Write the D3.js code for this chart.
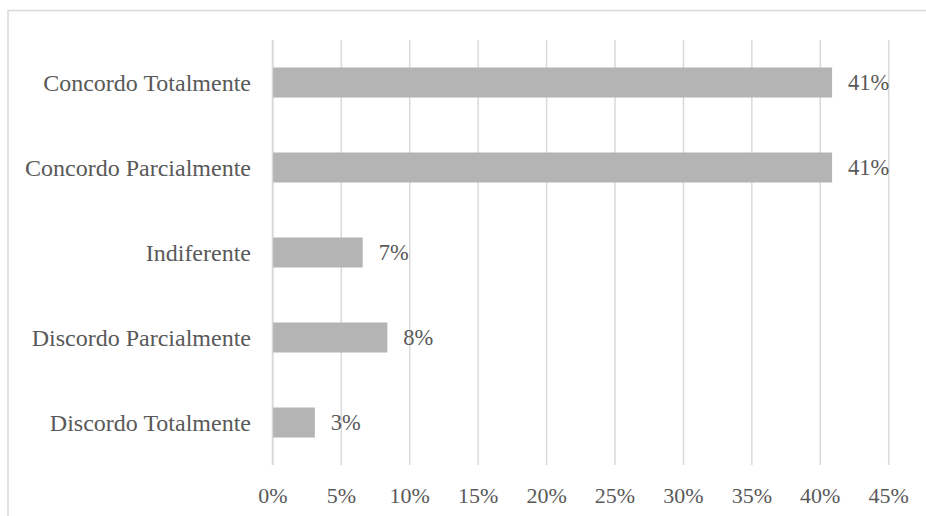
<!DOCTYPE html>
<html>
<head>
<meta charset="utf-8">
<script src="https://cdn.jsdelivr.net/npm/d3@7"></script>
<style>
  html, body { margin: 0; padding: 0; background: #fff; }
  svg { display: block; }
  text { font-family: "Liberation Serif", "Times New Roman", serif; fill: #595959; }
</style>
</head>
<body>
<svg id="chart" width="926" height="516"></svg>
<script>
const categories = ["Concordo Totalmente", "Concordo Parcialmente", "Indiferente", "Discordo Parcialmente", "Discordo Totalmente"];
const values = [0.409, 0.409, 0.066, 0.084, 0.031];
const valueLabels = ["41%", "41%", "7%", "8%", "3%"];
const tickValues = [0, 0.05, 0.10, 0.15, 0.20, 0.25, 0.30, 0.35, 0.40, 0.45];
const tickLabels = ["0%", "5%", "10%", "15%", "20%", "25%", "30%", "35%", "40%", "45%"];

const svg = d3.select("#chart");

// outer chart border (extends past the image)
svg.append("rect")
  .attr("x", 8).attr("y", 10.5)
  .attr("width", 1000).attr("height", 1000)
  .attr("fill", "none").attr("stroke", "#d9d9d9").attr("stroke-width", 1.5);

const plotTop = 40, plotBottom = 465;
const x = d3.scaleLinear().domain([0, 0.45]).range([272.4, 888.2]);
const y = d3.scaleBand().domain(categories).range([plotTop, plotBottom])
  .paddingInner(0.647).paddingOuter(0.3235);

// gridlines + tick labels
const xAxis = d3.axisBottom(x)
  .tickValues(tickValues)
  .tickFormat((d, i) => tickLabels[i])
  .tickSize(-(plotBottom - plotTop))
  .tickPadding(22);

const gx = svg.append("g")
  .attr("transform", `translate(0,${plotBottom})`)
  .call(xAxis);
gx.select(".domain").remove();
gx.selectAll(".tick line").attr("stroke", "#d9d9d9").attr("stroke-width", 1.5);
gx.selectAll(".tick text")
  .style("font-size", "22px")
  .attr("fill", "#595959");

// bars
svg.append("g").selectAll("rect")
  .data(values)
  .join("rect")
  .attr("x", x(0))
  .attr("y", (d, i) => y(categories[i]))
  .attr("width", d => x(d) - x(0))
  .attr("height", y.bandwidth())
  .attr("fill", "#b4b4b4");

// vertical axis line
svg.append("line")
  .attr("x1", x(0)).attr("x2", x(0))
  .attr("y1", plotTop).attr("y2", plotBottom)
  .attr("stroke", "#d9d9d9").attr("stroke-width", 1.5);

// category labels
svg.append("g").selectAll("text")
  .data(categories)
  .join("text")
  .attr("x", 251)
  .attr("y", d => y(d) + y.bandwidth() / 2)
  .attr("dy", "0.35em")
  .attr("text-anchor", "end")
  .style("font-size", "24px")
  .text(d => d);

// value labels
svg.append("g").selectAll("text")
  .data(values)
  .join("text")
  .attr("x", d => x(d) + 16)
  .attr("y", (d, i) => y(categories[i]) + y.bandwidth() / 2)
  .attr("dy", "0.35em")
  .style("font-size", "22.5px")
  .text((d, i) => valueLabels[i]);
</script>
</body>
</html>
